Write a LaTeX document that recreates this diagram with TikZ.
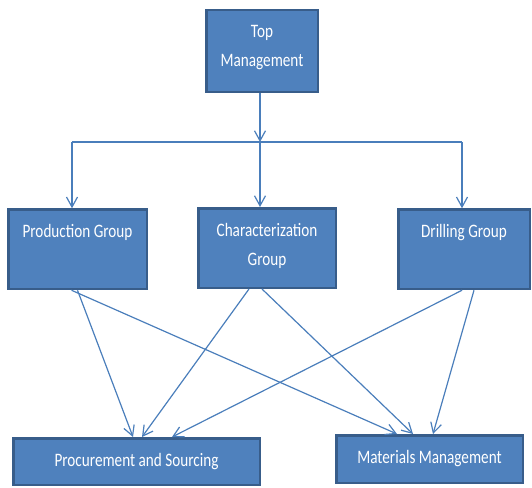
\documentclass[tikz,border=0pt]{standalone}
\usepackage{fontspec}
\setmainfont{Carlito}[FakeStretch=0.8]
\usetikzlibrary{arrows.meta}
\definecolor{boxfill}{HTML}{4F81BD}
\definecolor{boxline}{HTML}{385D8A}
\definecolor{linkline}{HTML}{4A7EBB}
\begin{document}
\begin{tikzpicture}
  [x=1pt,y=-1pt,
   box/.style={rectangle,draw=boxline,line width=2.5pt,fill=boxfill,text=white,
     font=\fontsize{19}{29}\selectfont,align=center,inner sep=0pt},
   topbox/.style={box,anchor=north,text height=27.75pt,text depth=51.75pt},
   link/.style={draw=linkline,line width=1.2pt,-{Straight Barb[length=10pt,width=11pt,line width=1.2pt]}}]
  \useasboundingbox (0,0) rectangle (532,487);

  \node[box,minimum width=111.5,minimum height=81.5,text depth=10pt] (top) at (262,51) {Top\\Management};
  \node[topbox,minimum width=138.5] (prod) at (77.5,208.25) {Production Group};
  \node[box,minimum width=137.5,minimum height=79.5,text depth=8pt] (char) at (267,248) {Characterization\\Group};
  \node[topbox,minimum width=131.5] (drill) at (464,208.25) {Drilling Group};
  \node[box,minimum width=246.5,minimum height=46.5] (proc) at (136.5,461.5) {Procurement and Sourcing};
  \node[box,minimum width=186.5,minimum height=47.5] (mat) at (429.5,459) {Materials Management};

  % split under top management
  \coordinate (jl) at (72,142);
  \coordinate (jc) at (260,142);
  \coordinate (jr) at (462,142);
  \draw[link] (top.south -| jc) -- (jc);
  \draw[draw=linkline,line width=1.2pt] (jl) -- (jr);
  \foreach \c/\n in {jl/prod,jc/char,jr/drill}
    \draw[link] (\c) -- (\c |- \n.north);

  \foreach \from/\fs/\to/\ts in {prod/0/proc/-3.5,prod/-6/mat/-32.5,
      char/-18/proc/5.5,char/-5/mat/-16.5,drill/-2/proc/35.5,drill/10/mat/3.5}
    \draw[link] ([xshift=\fs pt]\from.south) -- ([xshift=\ts pt]\to.north);
\end{tikzpicture}
\end{document}
